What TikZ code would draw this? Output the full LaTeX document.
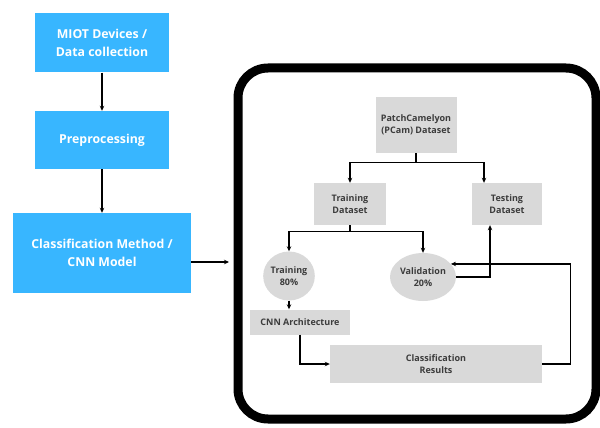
\documentclass[tikz,border=0pt]{standalone}
\usepackage{fontspec}
\setmainfont{Open Sans}
\usetikzlibrary{arrows.meta,shapes.geometric}
\definecolor{miotblue}{HTML}{38B6FF}
\definecolor{boxgray}{HTML}{D9D9D9}
\definecolor{txtgray}{HTML}{3C3C3C}

\begin{document}
\begin{tikzpicture}[x=1pt,y=-1pt,
  blue box/.style={fill=miotblue,text=white,align=center,inner sep=0pt,
    font=\bfseries\fontsize{12.3}{18}\selectfont},
  gray box/.style={fill=boxgray,text=txtgray,align=center,inner sep=0pt,
    font=\bfseries\fontsize{9}{12}\selectfont},
  gray oval/.style={gray box,ellipse},
  arr/.style={-{Stealth[length=5pt,width=4.5pt]},line width=1.3pt},
  link/.style={line width=1.3pt}]
\useasboundingbox (0,0) rectangle (600,428);

% left column
\node[blue box,minimum width=134pt,minimum height=59pt] (miot) at (102,43) {MIOT Devices /\\Data collection};
\node[blue box,minimum width=134pt,minimum height=58pt] (prep) at (102,140) {Preprocessing};
\node[blue box,minimum width=178pt,minimum height=80pt] (cnnmodel) at (102,253) {Classification Method /\\CNN Model};

\draw[arr] (miot) -- (prep);
\draw[arr] (prep) -- (cnnmodel);

% frame
\node[draw,line width=9pt,rounded corners=30pt,minimum width=358pt,minimum height=351pt] (frame) at (417,243.5) {};
\coordinate (out) at ([yshift=-9pt]cnnmodel.east);
\draw[arr,shorten >=4.5pt] (out) -- (out -| frame.west);

% inner flow
\node[gray box,minimum width=81pt,minimum height=56pt] (pcam) at (416,125) {PatchCamelyon\\(PCam) Dataset};
\node[gray box,minimum width=72pt,minimum height=42pt] (trainset) at (350,204) {Training\\Dataset};
\node[gray box,minimum width=70pt,minimum height=42pt] (testset) at (507,204) {Testing\\Dataset};
\node[gray oval,minimum width=50pt,minimum height=49pt] (train) at (289,276) {Training\\80\%};
\node[gray oval,minimum width=66pt,minimum height=48pt] (valid) at (423,277) {Validation\\20\%};
\node[gray box,minimum width=100pt,minimum height=25pt] (cnnarch) at (300,322) {CNN Architecture};
\node[gray box,minimum width=212pt,minimum height=38pt] (results) at (436,364) {Classification\\Results};

\draw[link] (pcam.south) -- ++(0,9) coordinate (split1);
\draw[arr] (split1) -| (trainset.north);
\draw[arr] (split1) -| ([xshift=-23pt]testset.north);

\draw[link] (trainset.south) -- ++(0,6) coordinate (split2);
\draw[arr] (split2) -| (train.north);
\draw[arr] (split2) -| (valid.north);

\draw[arr] (train.south) -- (train.south |- cnnarch.north);
\draw[arr] (cnnarch.south) |- (results.west);
\draw[arr] (results.east) -- ++(28,0) |- (valid.25);
\draw[arr] (valid.east) -| ([xshift=-17pt]testset.south);
\end{tikzpicture}
\end{document}
